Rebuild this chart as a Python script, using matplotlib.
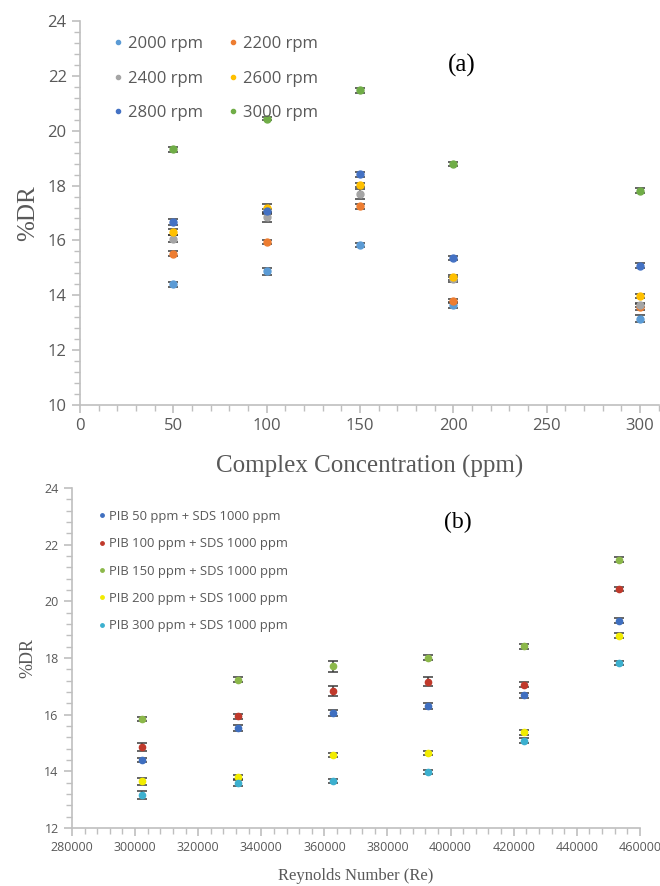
import numpy as np
import matplotlib
matplotlib.use('Agg')
import matplotlib.pyplot as plt
from matplotlib.ticker import MultipleLocator

# %DR for each complex concentration (rows) at each rotational speed (columns)
rpm = [2000, 2200, 2400, 2600, 2800, 3000]
reynolds = [302300, 332530, 362760, 392990, 423220, 453450]
conc = [50, 100, 150, 200, 300]

dr_50 = [14.40, 15.52, 16.06, 16.30, 16.68, 19.32]
dr_100 = [14.87, 15.94, 16.84, 17.17, 17.06, 20.44]
dr_150 = [15.84, 17.24, 17.70, 18.01, 18.41, 21.47]
dr_200 = [13.65, 13.80, 14.58, 14.65, 15.37, 18.79]
dr_300 = [13.15, 13.58, 13.65, 13.97, 15.08, 17.82]

err_50 = [0.08, 0.10, 0.12, 0.10, 0.10, 0.08]
err_100 = [0.14, 0.08, 0.18, 0.16, 0.10, 0.06]
err_150 = [0.07, 0.08, 0.18, 0.08, 0.08, 0.08]
err_200 = [0.12, 0.08, 0.08, 0.08, 0.08, 0.08]
err_300 = [0.14, 0.10, 0.08, 0.08, 0.08, 0.08]

dr = [dr_50, dr_100, dr_150, dr_200, dr_300]
err = [err_50, err_100, err_150, err_200, err_300]

rpm_labels = ['2000 rpm', '2200 rpm', '2400 rpm', '2600 rpm', '2800 rpm', '3000 rpm']
rpm_colors = ['#5B9BD5', '#ED7D31', '#A5A5A5', '#FFC000', '#4472C4', '#70AD47']
pib_labels = ['PIB 50 ppm + SDS 1000 ppm', 'PIB 100 ppm + SDS 1000 ppm',
              'PIB 150 ppm + SDS 1000 ppm', 'PIB 200 ppm + SDS 1000 ppm',
              'PIB 300 ppm + SDS 1000 ppm']
pib_colors = ['#3F6FC0', '#C0392B', '#8CB84A', '#F2EC00', '#3CB0CF']

grey = '#595959'
spine = '#BFBFBF'
serif = 'Liberation Serif'
sans = 'Open Sans'

fig = plt.figure(figsize=(6.6, 8.86), dpi=100)


def style_axes(ax, fs):
    for s in ['top', 'right']:
        ax.spines[s].set_visible(False)
    for s in ['left', 'bottom']:
        ax.spines[s].set_color(spine)
        ax.spines[s].set_linewidth(1.2)
    ax.tick_params(which='both', direction='out', colors=spine, labelcolor=grey,
                   labelsize=fs)
    ax.tick_params(which='major', length=6, width=1.2)
    ax.tick_params(which='minor', length=4, width=1.0)
    for lab in ax.get_xticklabels() + ax.get_yticklabels():
        lab.set_family(sans)


# ---------------- (a) ----------------
ax1 = fig.add_axes([0.121, 0.5429, 0.877, 0.4334])
handles = []
for j in range(len(rpm)):
    y = [dr[i][j] for i in range(len(conc))]
    e = [err[i][j] for i in range(len(conc))]
    h = ax1.errorbar(conc, y, yerr=e, fmt='o', ms=5, color=rpm_colors[j],
                     ecolor='#3a3a3a', elinewidth=1.1, capsize=3.5, capthick=1.1,
                     label=rpm_labels[j], zorder=3)
    handles.append(h)
ax1.set_xlim(0, 310)
ax1.set_ylim(10, 24)
ax1.xaxis.set_major_locator(MultipleLocator(50))
ax1.xaxis.set_minor_locator(MultipleLocator(10))
ax1.yaxis.set_major_locator(MultipleLocator(2))
ax1.yaxis.set_minor_locator(MultipleLocator(0.4))
style_axes(ax1, 12)
ax1.set_xlabel('Complex Concentration (ppm)', family=serif, fontsize=18,
               color=grey, labelpad=15)
ax1.set_ylabel('%DR', family=serif, fontsize=18, color=grey, labelpad=6)
ax1.text(0.66, 0.885, '(a)', transform=ax1.transAxes, family=serif,
         fontsize=18, color='black', ha='center', va='center')
order = [0, 2, 4, 1, 3, 5]
leg1 = ax1.legend([handles[k][0] for k in order], [rpm_labels[k] for k in order],
                  ncol=2, loc='upper left', bbox_to_anchor=(0.025, 1.0),
                  frameon=False, markerscale=0.6, handletextpad=0.1,
                  handlelength=1.0, columnspacing=1.3, labelspacing=1.12,
                  prop={'family': sans, 'size': 12})
for t in leg1.get_texts():
    t.set_color(grey)

# ---------------- (b) ----------------
ax2 = fig.add_axes([0.109, 0.0655, 0.8606, 0.3837])
handles2 = []
for i in range(len(conc)):
    h = ax2.errorbar(reynolds, dr[i], yerr=err[i], fmt='o', ms=4.5, color=pib_colors[i],
                     ecolor='#3a3a3a', elinewidth=1.1, capsize=3.5, capthick=1.1,
                     label=pib_labels[i], zorder=3)
    handles2.append(h)
ax2.set_xlim(280000, 460000)
ax2.set_ylim(12, 24)
ax2.xaxis.set_major_locator(MultipleLocator(20000))
ax2.xaxis.set_minor_locator(MultipleLocator(4000))
ax2.yaxis.set_major_locator(MultipleLocator(2))
ax2.yaxis.set_minor_locator(MultipleLocator(0.4))
style_axes(ax2, 9)
ax2.set_xlabel('Reynolds Number (Re)', family=serif, fontsize=12,
               color=grey, labelpad=10)
ax2.set_ylabel('%DR', family=serif, fontsize=13, color=grey, labelpad=6)
ax2.text(0.68, 0.9, '(b)', transform=ax2.transAxes, family=serif,
         fontsize=17, color='black', ha='center', va='center')
leg2 = ax2.legend([h[0] for h in handles2], pib_labels, loc='upper left',
                  bbox_to_anchor=(0.02, 0.97), frameon=False, markerscale=0.55,
                  handletextpad=0.1, handlelength=1.0, labelspacing=1.1,
                  prop={'family': sans, 'size': 9.4})
for t in leg2.get_texts():
    t.set_color(grey)

fig.savefig('out.png', dpi=100)
plt.close(fig)
